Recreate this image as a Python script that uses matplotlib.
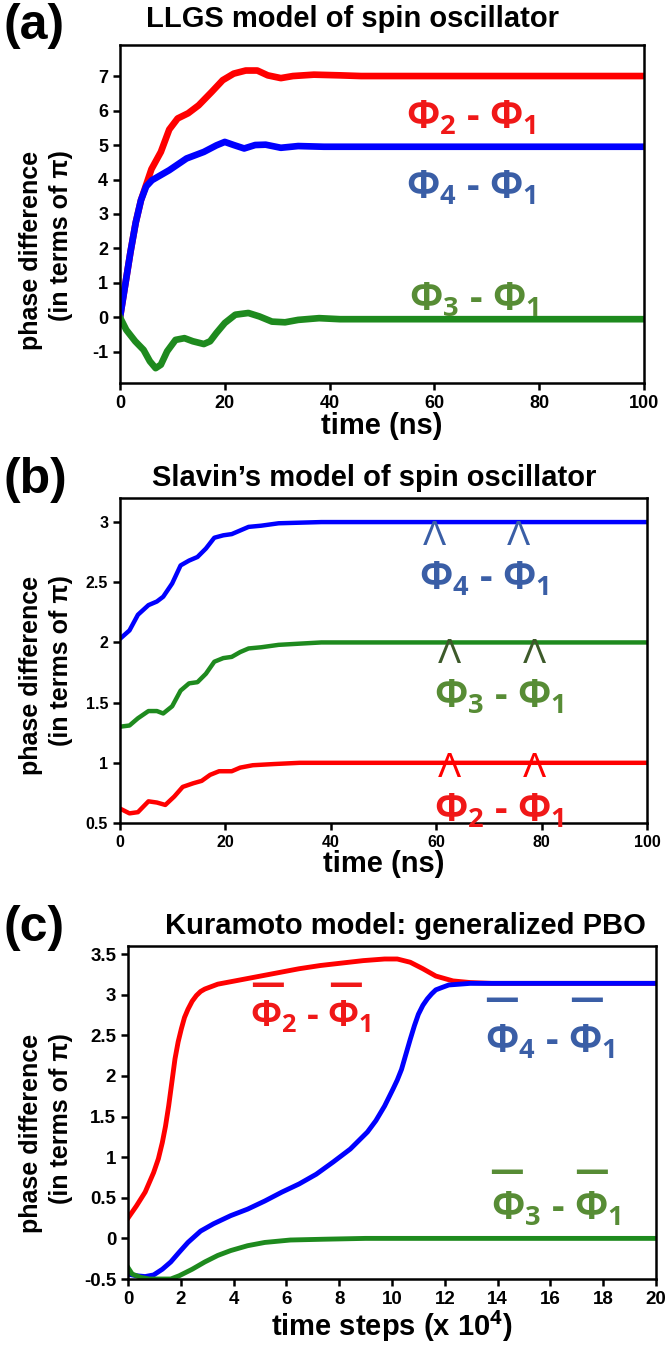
import matplotlib
matplotlib.use('Agg')
import matplotlib.pyplot as plt

plt.rcParams['mathtext.fontset'] = 'custom'
plt.rcParams['mathtext.rm'] = 'Open Sans:bold'
plt.rcParams['mathtext.it'] = 'Open Sans:bold'
plt.rcParams['mathtext.bf'] = 'Open Sans:bold'
plt.rcParams['axes.linewidth'] = 1.8
plt.rcParams['axes.unicode_minus'] = False

NARROW = ['Liberation Sans Narrow', 'Liberation Sans', 'DejaVu Sans']
ARIAL = ['Liberation Sans', 'DejaVu Sans']

# (a) LLGS model
t_a_red = [0, 1, 2, 3, 4, 5, 6, 7.8, 9.4, 11, 13, 15, 17.5, 19.6, 21.7, 24, 26.2, 28.2,
           30.7, 33, 37, 42, 46, 60, 80, 100]
a_red = [0, 0.95, 1.9, 2.75, 3.4, 3.85, 4.3, 4.8, 5.45, 5.77, 5.92, 6.15, 6.54, 6.88,
         7.07, 7.16, 7.16, 7.02, 6.94, 7.0, 7.04, 7.02, 7.0, 7.0, 7.0, 7.0]
t_a_blue = [0, 1, 2, 3, 4, 5, 6.1, 9.4, 12.7, 16, 18.4, 20, 21.7, 23.7, 25.8, 27.8, 30.7,
            34, 38.9, 50, 100]
a_blue = [0, 0.95, 1.9, 2.75, 3.4, 3.8, 3.98, 4.27, 4.61, 4.8, 4.99, 5.09, 5.0, 4.9, 5.0,
          5.01, 4.92, 4.97, 4.95, 4.95, 4.95]
t_a_green = [0, 1.2, 2.9, 4.5, 5.7, 6.8, 7.8, 9, 10.6, 12.3, 13.9, 16, 17.2, 18.4, 20, 22,
             24.5, 26.6, 29, 31.5, 34, 38, 42, 50, 100]
a_green = [0, -0.36, -0.69, -0.94, -1.27, -1.47, -1.37, -0.98, -0.65, -0.6, -0.69, -0.77,
           -0.69, -0.45, -0.16, 0.08, 0.13, 0.03, -0.12, -0.14, -0.07, -0.02, -0.05,
           -0.05, -0.05]

# (b) Slavin's model
t_b = [0, 1.8, 3.4, 5.4, 7.0, 8.2, 9.9, 11.5, 13.1, 14.7, 16.3, 17.9, 19.6, 21.2, 22.8,
       24.4, 26.8, 30.1, 34.1, 38.2, 100]
b_blue = [2.03, 2.1, 2.23, 2.31, 2.34, 2.38, 2.49, 2.64, 2.68, 2.71, 2.78, 2.87, 2.89, 2.9,
          2.93, 2.96, 2.97, 2.99, 2.995, 3.0, 3.0]
b_green = [1.3, 1.31, 1.37, 1.43, 1.43, 1.41, 1.47, 1.6, 1.66, 1.67, 1.74, 1.84, 1.87, 1.88,
           1.92, 1.95, 1.96, 1.98, 1.99, 2.0, 2.0]
t_b_red = [0, 1.8, 3.4, 5.4, 7.0, 8.6, 10.3, 11.9, 13.9, 15.5, 17.1, 18.8, 21.2, 22.8, 25.2,
           29.3, 34.1, 100]
b_red = [0.62, 0.58, 0.59, 0.68, 0.67, 0.65, 0.72, 0.8, 0.83, 0.85, 0.9, 0.93, 0.93, 0.96,
         0.98, 0.99, 1.0, 1.0]

# (c) Kuramoto model
t_c_red = [0, 0.32, 0.65, 0.97, 1.15, 1.3, 1.42, 1.54, 1.66, 1.78, 1.9, 2.02, 2.14, 2.27,
           2.43, 2.59, 2.75, 2.91, 3.4, 4.05, 4.86, 5.67, 6.48, 7.29, 8.1, 8.91, 9.72,
           10.2, 10.69, 11.17, 11.66, 12.31, 12.96, 13.77, 20]
c_red = [0.25, 0.4, 0.57, 0.81, 0.98, 1.18, 1.38, 1.63, 1.92, 2.21, 2.42, 2.58, 2.72, 2.82,
         2.92, 2.99, 3.04, 3.07, 3.13, 3.17, 3.22, 3.27, 3.32, 3.36, 3.39, 3.42, 3.44,
         3.44, 3.4, 3.32, 3.23, 3.17, 3.15, 3.14, 3.14]
t_c_blue = [0, 0.32, 0.65, 0.97, 1.3, 1.62, 1.94, 2.27, 2.75, 3.24, 3.89, 4.53, 5.18, 5.83,
            6.48, 7.13, 7.77, 8.42, 9.07, 9.39, 9.72, 10.04, 10.2, 10.36, 10.52, 10.69,
            10.85, 11.0, 11.17, 11.34, 11.5, 11.66, 11.9, 12.15, 12.96, 20]
c_blue = [-0.44, -0.46, -0.47, -0.45, -0.38, -0.29, -0.17, -0.05, 0.09, 0.18, 0.28, 0.36,
          0.46, 0.57, 0.67, 0.79, 0.94, 1.1, 1.31, 1.45, 1.63, 1.84, 1.95, 2.08, 2.26,
          2.45, 2.62, 2.76, 2.87, 2.95, 3.01, 3.06, 3.09, 3.12, 3.14, 3.14]
t_c_green = [0, 0.16, 0.49, 0.8, 1.62, 1.94, 2.43, 2.91, 3.4, 3.89, 4.53, 5.18, 6.15, 7.45,
             9.0, 20]
c_green = [-0.36, -0.44, -0.48, -0.5, -0.5, -0.46, -0.38, -0.29, -0.21, -0.15, -0.09, -0.05,
           -0.02, -0.01, 0.0, 0.0]

RED = '#ff0000'
BLUE = '#0000ff'
GREEN = '#1e8a1e'
TXT_RED = '#f01818'
TXT_BLUE = '#3a5ea6'
TXT_GREEN = '#578c35'
HAT_GREEN = '#3d5a2a'

fig = plt.figure(figsize=(6.7, 13.49), dpi=100)
W, H = 670, 1349


def add_axes(left, top, right, bottom):
    return fig.add_axes([left / W, 1 - bottom / H, (right - left) / W, (bottom - top) / H])


def style(ax, size):
    ax.tick_params(direction='out', length=5, width=1.8, labelsize=size)
    for lab in ax.get_xticklabels() + ax.get_yticklabels():
        lab.set_fontweight('bold')
        lab.set_family(ARIAL)


def ylab(y):
    fig.text(46 / W, 1 - y / H, 'phase difference\n(in terms of π)', rotation=90,
             ha='center', va='center', multialignment='right', fontsize=18,
             fontweight='bold', family=ARIAL, linespacing=1.3)


def phi_label(ax, x, y, txt, col, size=28):
    ax.text(x, y, txt, color=col, fontsize=size, ha='center', va='center',
            family='Open Sans', fontweight='bold')


# ---- (a)
ax1 = add_axes(120, 45, 644, 383)
ax1.plot(t_a_red, a_red, color=RED, lw=4.8)
ax1.plot(t_a_blue, a_blue, color=BLUE, lw=4.8)
ax1.plot(t_a_green, a_green, color=GREEN, lw=4.8)
ax1.set_xlim(0, 100)
ax1.set_ylim(-1.9, 7.9)
ax1.set_xticks(range(0, 101, 20))
ax1.set_yticks(range(-1, 8))
style(ax1, 13)
ax1.set_xlabel('time (ns)', fontsize=21, fontweight='bold', family=NARROW, labelpad=0)
phi_label(ax1, 67, 5.8, r'$\Phi_2$ - $\Phi_1$', TXT_RED)
phi_label(ax1, 67, 3.75, r'$\Phi_4$ - $\Phi_1$', TXT_BLUE)
phi_label(ax1, 67.5, 0.5, r'$\Phi_3$ - $\Phi_1$', TXT_GREEN)
fig.text(4 / W, 1 - 26 / H, '(a)', fontsize=36, fontweight='bold', family=NARROW, va='center')
fig.text(352 / W, 1 - 19 / H, 'LLGS model of spin oscillator', fontsize=21, fontweight='bold',
         family=NARROW, ha='center', va='center')
ylab(250)

# ---- (b)
ax2 = add_axes(120, 498, 647, 823)
ax2.plot(t_b, b_blue, color=BLUE, lw=3.2)
ax2.plot(t_b, b_green, color=GREEN, lw=3.2)
ax2.plot(t_b_red, b_red, color=RED, lw=3.2)
ax2.set_xlim(0, 100)
ax2.set_ylim(0.5, 3.2)
ax2.set_xticks(range(0, 101, 20))
ax2.set_yticks([0.5, 1, 1.5, 2, 2.5, 3])
ax2.set_yticklabels(['0.5', '1', '1.5', '2', '2.5', '3'])
style(ax2, 11.5)
ax2.set_xlabel('time (ns)', fontsize=21, fontweight='bold', family=NARROW, labelpad=0)
for txt, x, y, col, hc in [(r'$\Phi_4$ - $\Phi_1$', 69, 2.53, TXT_BLUE, TXT_BLUE),
                           (r'$\Phi_3$ - $\Phi_1$', 72, 1.55, TXT_GREEN, HAT_GREEN),
                           (r'$\Phi_2$ - $\Phi_1$', 72, 0.6, TXT_RED, RED)]:
    phi_label(ax2, x, y, txt, col)
    for hx in (x - 9.4, x + 6.6):
        ax2.text(hx, y + 0.36, 'Λ', color=hc, fontsize=25, ha='center', va='center',
                 family=ARIAL)
fig.text(4 / W, 1 - 480 / H, '(b)', fontsize=36, fontweight='bold', family=NARROW, va='center')
fig.text(374 / W, 1 - 478 / H, 'Slavin\u2019s model of spin oscillator', fontsize=21,
         fontweight='bold', family=NARROW, ha='center', va='center')
ylab(675)

# ---- (c)
ax3 = add_axes(128, 946, 656, 1279)
ax3.plot(t_c_red, c_red, color=RED, lw=3.5)
ax3.plot(t_c_blue, c_blue, color=BLUE, lw=3.5)
ax3.plot(t_c_green, c_green, color=GREEN, lw=3.5)
ax3.set_xlim(0, 20)
ax3.set_ylim(-0.5, 3.6)
ax3.set_xticks(range(0, 21, 2))
ax3.set_yticks([-0.5, 0, 0.5, 1, 1.5, 2, 2.5, 3, 3.5])
ax3.set_yticklabels(['-0.5', '0', '0.5', '1', '1.5', '2', '2.5', '3', '3.5'])
style(ax3, 13.5)
ax3.set_xlabel('time steps (x 10$^4$)', fontsize=21, fontweight='bold', family=NARROW,
               labelpad=0)
for txt, x, y, col, size, dl, dr, yo in [
        (r'$\Phi_2$ - $\Phi_1$', 6.9, 2.72, TXT_RED, 26, -1.6, 1.35, 3.12),
        (r'$\Phi_4$ - $\Phi_1$', 16.0, 2.42, TXT_BLUE, 28, -1.85, 1.35, 2.93),
        (r'$\Phi_3$ - $\Phi_1$', 16.2, 0.36, TXT_GREEN, 28, -1.85, 1.35, 0.82)]:
    phi_label(ax3, x, y, txt, col, size)
    for ox in (x + dl, x + dr):
        ax3.text(ox, yo, '—', color=col, fontsize=25, ha='center', va='center',
                 family='DejaVu Sans', fontweight='bold')
fig.text(4 / W, 1 - 928 / H, '(c)', fontsize=36, fontweight='bold', family=NARROW, va='center')
fig.text(405 / W, 1 - 926 / H, 'Kuramoto model: generalized PBO', fontsize=21,
         fontweight='bold', family=NARROW, ha='center', va='center')
ylab(1133)

fig.savefig('out.png', dpi=100)
